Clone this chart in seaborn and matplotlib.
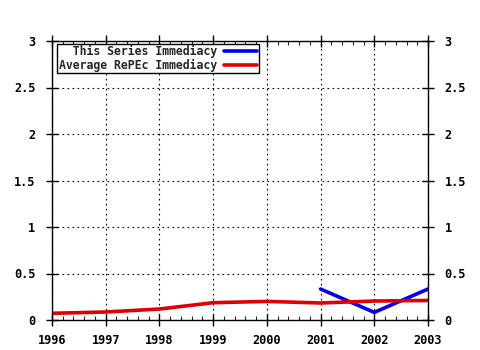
import matplotlib
matplotlib.use("Agg")
import matplotlib.pyplot as plt
import seaborn as sns
import pandas as pd
from matplotlib.ticker import MultipleLocator, FuncFormatter

years_avg = [1996, 1997, 1998, 1999, 2000, 2001, 2002, 2003]
avg_immediacy = [0.072, 0.086, 0.118, 0.186, 0.200, 0.183, 0.204, 0.210]
years_series = [2001, 2002, 2003]
series_immediacy = [0.333, 0.082, 0.333]
label_series = "  This Series Immediacy"
label_avg = "Average RePEc Immediacy"

sns.set_style("white")
plt.rcParams['font.family'] = ['DejaVu Sans Mono']
plt.rcParams['font.weight'] = 'bold'

fig = plt.figure(figsize=(4.8, 3.5), dpi=100)
ax = fig.add_axes([52/480, 30/350, 376/480, 279/350])

df_avg = pd.DataFrame({"year": years_avg, "val": avg_immediacy})
df_ser = pd.DataFrame({"year": years_series, "val": series_immediacy})

sns.lineplot(data=df_ser, x="year", y="val", ax=ax, color="#0000ee", lw=2.6, label=label_series)
sns.lineplot(data=df_avg, x="year", y="val", ax=ax, color="#e00000", lw=2.6, label=label_avg)

ax.set_xlim(1996, 2003)
ax.set_ylim(0, 3)
ax.set_xlabel("")
ax.set_ylabel("")
ax.xaxis.set_major_locator(MultipleLocator(1))
ax.xaxis.set_minor_locator(MultipleLocator(0.2))
ax.yaxis.set_major_locator(MultipleLocator(0.5))
ax.yaxis.set_major_formatter(FuncFormatter(lambda v, p: f"{v:g}"))
ax.grid(True, which="major", color="black", linestyle=(0, (1.5, 3)), lw=0.8)
for s in ax.spines.values():
    s.set_color("black")
    s.set_linewidth(1.0)
ax.tick_params(axis="y", which="major", direction="inout", length=8, width=1,
               left=True, right=True, labelleft=True, labelright=True, labelsize=8.6, pad=8, colors="black")
ax.tick_params(axis="x", which="major", direction="inout", length=8, width=1,
               bottom=True, top=True, labelsize=8.6, pad=6, colors="black")
ax.tick_params(axis="x", which="minor", direction="in", length=3, width=0.8,
               bottom=True, top=True)

leg = ax.legend(loc="upper left", bbox_to_anchor=(0.014, 0.99), markerfirst=False,
                frameon=True, fancybox=False, edgecolor="black", framealpha=1,
                fontsize=8.3, handlelength=2.9, borderpad=0.12, labelspacing=0.02,
                handletextpad=0.6, borderaxespad=0)
leg.get_frame().set_linewidth(1.0)

fig.savefig("out.png", dpi=100)
